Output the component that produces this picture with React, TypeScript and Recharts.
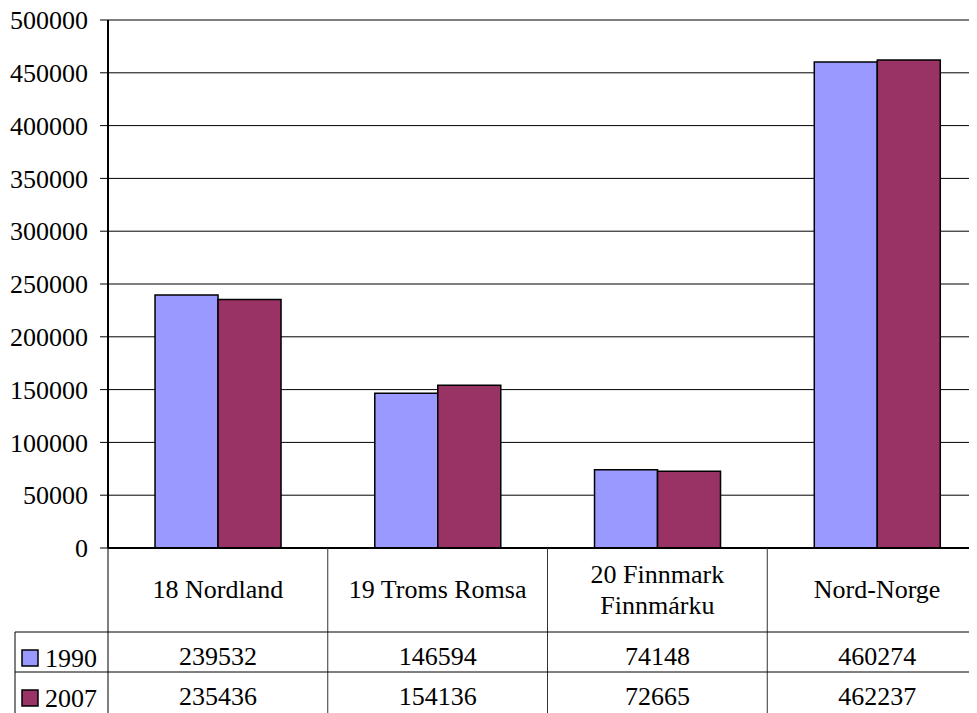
import React from 'react';
import { BarChart, Bar, XAxis, YAxis, CartesianGrid } from 'recharts';

const categories = ['18 Nordland', '19 Troms Romsa', '20 Finnmark\nFinnmárku', 'Nord-Norge'];
const values1990 = [239532, 146594, 74148, 460274];
const values2007 = [235436, 154136, 72665, 462237];
const yTicks = [0, 50000, 100000, 150000, 200000, 250000, 300000, 350000, 400000, 450000, 500000];
const seriesNames = ['1990', '2007'];
const seriesColors = ['#9999FF', '#993366'];

const data = categories.map((name, i) => ({ name, v1990: values1990[i], v2007: values2007[i] }));

const CHART_W = 1000;
const CHART_H = 720;
const PLOT_LEFT = 100;
const PLOT_RIGHT = 979;
const PLOT_BOTTOM = 540;
const ROW1 = 624;
const ROW2 = 664;
const BAND = (PLOT_RIGHT - PLOT_LEFT) / categories.length;
const FONT = 26;
const SERIF = "'Liberation Serif', 'DejaVu Serif', serif";

// data table under the plot, one column per category tick
const TableTick = (props: any) => {
  const { x, payload, index } = props;
  const left = x - BAND / 2;
  const right = x + BAND / 2;
  const lines = String(payload.value).split('\n');
  const firstBase = lines.length > 1 ? 575 : 590;
  const txt = { fontSize: FONT, fontFamily: SERIF, fill: '#000' };
  return (
    <g>
      {index === 0 && (
        <g>
          <line x1={left} y1={PLOT_BOTTOM} x2={left} y2={CHART_H} stroke="#000" strokeWidth={1} />
          <line x1={7} y1={ROW1} x2={left} y2={ROW1} stroke="#000" strokeWidth={1} />
          <line x1={7} y1={ROW2} x2={left} y2={ROW2} stroke="#000" strokeWidth={1} />
          <line x1={7} y1={ROW1} x2={7} y2={CHART_H} stroke="#000" strokeWidth={1} />
          {seriesNames.map((s, k) => (
            <g key={s}>
              <rect x={14} y={642 + k * 40} width={16} height={16} fill={seriesColors[k]} stroke="#000" strokeWidth={1.5} />
              <text x={37} y={659 + k * 40} style={txt}>{s}</text>
            </g>
          ))}
        </g>
      )}
      <line x1={right} y1={PLOT_BOTTOM} x2={right} y2={CHART_H} stroke="#333" strokeWidth={1} />
      <line x1={left} y1={ROW1} x2={right} y2={ROW1} stroke="#000" strokeWidth={1} />
      <line x1={left} y1={ROW2} x2={right} y2={ROW2} stroke="#000" strokeWidth={1} />
      {lines.map((ln, k) => (
        <text key={k} x={x} y={firstBase + k * 31} textAnchor="middle" style={txt}>{ln}</text>
      ))}
      <text x={x} y={657} textAnchor="middle" style={txt}>{values1990[index]}</text>
      <text x={x} y={697} textAnchor="middle" style={txt}>{values2007[index]}</text>
    </g>
  );
};

const App: React.FC = () => {
  return (
    <div style={{ width: CHART_W, height: CHART_H, fontFamily: SERIF }}>
      <BarChart
        width={CHART_W}
        height={CHART_H}
        data={data}
        style={{ fontFamily: SERIF }}
        margin={{ top: 12, right: CHART_W - PLOT_RIGHT, left: 0, bottom: 0 }}
        barCategoryGap="21.4%"
        barGap={0}
      >
        <CartesianGrid vertical={false} stroke="#000" strokeWidth={1} />
        <XAxis
          dataKey="name"
          interval={0}
          height={CHART_H - PLOT_BOTTOM}
          tickLine={false}
          axisLine={{ stroke: '#000', strokeWidth: 2 }}
          tick={<TableTick />}
        />
        <YAxis
          width={PLOT_LEFT}
          domain={[0, 500000]}
          ticks={yTicks}
          interval={0}
          tickSize={8}
          tickMargin={12}
          tickLine={{ stroke: '#000' }}
          axisLine={{ stroke: '#000', strokeWidth: 2 }}
          tick={{ fill: '#000', fontSize: FONT, style: { fontFamily: SERIF } }}
        />
        <Bar dataKey="v1990" name="1990" fill={seriesColors[0]} stroke="#000" strokeWidth={1.5} isAnimationActive={false} />
        <Bar dataKey="v2007" name="2007" fill={seriesColors[1]} stroke="#000" strokeWidth={1.5} isAnimationActive={false} />
      </BarChart>
    </div>
  );
};

export default App;
